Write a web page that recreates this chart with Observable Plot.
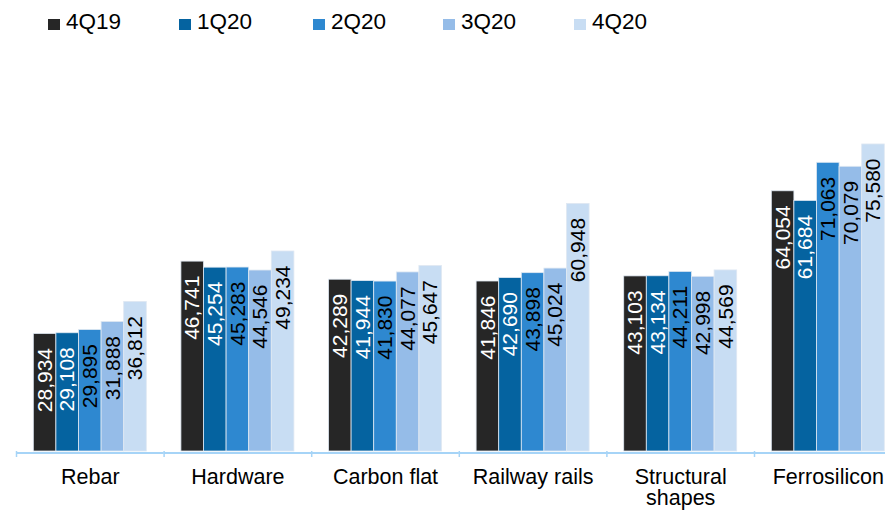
<!DOCTYPE html>
<html>
<head>
<meta charset="utf-8">
<script src="https://cdn.jsdelivr.net/npm/d3@7"></script>
<script src="https://cdn.jsdelivr.net/npm/@observablehq/plot@0.6"></script>
<style>
  html, body { margin: 0; padding: 0; background: white; }
  body { width: 885px; height: 510px; overflow: hidden; font-family: "Liberation Sans", Arial, sans-serif; }
  #legend { position: relative; height: 45px; width: 885px; }
  .item { position: absolute; top: 0; height: 45px; font-size: 22.5px; color: #000; }
  .sw { position: absolute; left: 0; top: 19px; width: 12px; height: 11px; }
  .lb { position: absolute; left: 18px; top: 11px; line-height: 1; white-space: nowrap; }
</style>
</head>
<body>
<div id="legend"></div>
<div id="chart"></div>
<script>
const categories = ["Rebar", "Hardware", "Carbon flat", "Railway rails", "Structural shapes", "Ferrosilicon"];
const series = ["4Q19", "1Q20", "2Q20", "3Q20", "4Q20"];
const v4Q19 = [28934, 46741, 42289, 41846, 43103, 64054];
const v1Q20 = [29108, 45254, 41944, 42690, 43134, 61684];
const v2Q20 = [29895, 45283, 41830, 43898, 44211, 71063];
const v3Q20 = [31888, 44546, 44077, 45024, 42998, 70079];
const v4Q20 = [36812, 49234, 45647, 60948, 44569, 75580];
const colors = ["#262626", "#0563a0", "#2e88d0", "#95bce8", "#c8ddf3"];
const axisColor = "#a6d4f7";

const values = [v4Q19, v1Q20, v2Q20, v3Q20, v4Q20];
const data = [];
categories.forEach((c, i) => series.forEach((s, j) => data.push({cat: c, series: s, si: j, value: values[j][i]})));

// legend
const legend = document.getElementById("legend");
const legendLeft = [48, 179, 313, 443, 574];
series.forEach((s, j) => {
  const it = document.createElement("div");
  it.className = "item";
  it.style.left = legendLeft[j] + "px";
  it.innerHTML = `<div class="sw" style="background:${colors[j]}"></div><div class="lb">${s}</div>`;
  legend.appendChild(it);
});

const fxRange = [16, 901.6];
const band = (fxRange[1] - fxRange[0]) / categories.length;
const fmt = d3.format(",");

const chart = Plot.plot({
  width: 885,
  height: 465,
  marginTop: 81,
  marginBottom: 59,
  marginLeft: 16,
  marginRight: 0,
  style: {fontFamily: "'Liberation Sans', Arial, sans-serif", background: "white", color: "black"},
  fx: {domain: categories, range: fxRange, paddingInner: 0, paddingOuter: 0, round: false, label: null},
  x: {domain: series, paddingInner: 0, paddingOuter: 0.766, round: false, axis: null},
  y: {domain: [0, 80000], axis: null},
  color: {domain: series, range: colors},
  marks: [
    Plot.barY(data, {fx: "cat", x: "series", y: "value", fill: "series", stroke: "#dfe8f2", strokeWidth: 0.8}),
    Plot.text(data.filter(d => d.si < 2), {fx: "cat", x: "series", y: "value", text: d => fmt(d.value), rotate: -90, textAnchor: "end", lineAnchor: "middle", dy: 14, fill: "white", fontSize: 21}),
    Plot.text(data.filter(d => d.si >= 2), {fx: "cat", x: "series", y: "value", text: d => fmt(d.value), rotate: -90, textAnchor: "end", lineAnchor: "middle", dy: 14, fill: "black", fontSize: 21}),
    Plot.ruleY([0], {stroke: axisColor, strokeWidth: 2, dy: 1.5}),
    Plot.axisFx({anchor: "bottom", tickSize: 6, tickFormat: () => "", dx: -band / 2, stroke: axisColor, strokeWidth: 1.5, label: null}),
    Plot.axisFx({anchor: "bottom", tickSize: 0, tickPadding: 17, fontSize: 21.5, lineAnchor: "top", fill: "black",
      tickFormat: d => d === "Structural shapes" ? "Structural\nshapes" : d, label: null})
  ]
});
document.getElementById("chart").appendChild(chart);
</script>
</body>
</html>
